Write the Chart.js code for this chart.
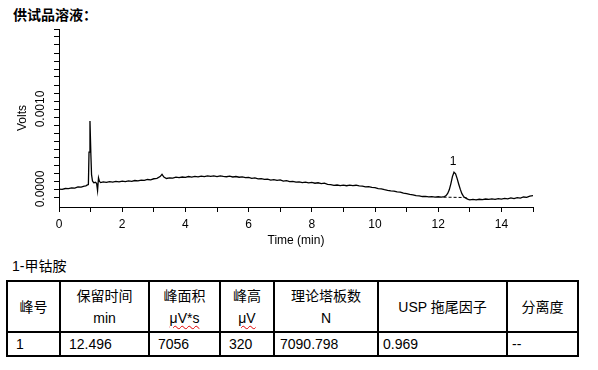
<!DOCTYPE html>
<html>
<head>
<meta charset="utf-8">
<script src="https://cdn.jsdelivr.net/npm/chart.js@4.4.1/dist/chart.umd.min.js"></script>
<style>
  html, body { margin: 0; padding: 0; background: #fff; }
  body { width: 598px; height: 370px; position: relative; overflow: hidden;
         font-family: "Liberation Sans", Arial, "Noto Sans CJK SC", sans-serif; color: #000; }
  #title { position: absolute; left: 13px; top: 7px; font-size: 14px; font-weight: bold; line-height: 16px; color: #000; }
  #chart { position: absolute; left: 0; top: 0; }
  #compound { position: absolute; left: 12px; top: 258px; font-size: 14px; line-height: 16px; color: #000; }
  table { position: absolute; left: 6px; top: 280px; border-collapse: collapse; table-layout: fixed;
          width: 573px; font-size: 14px; color: #000; }
  td { border: 2px solid #000; padding: 0; color: #000; }
  tr.head td { height: 49px; text-align: center; line-height: 22px; vertical-align: middle; }
  tr.row td { height: 22px; text-align: left; vertical-align: middle; line-height: 18px; }
  .sp { text-decoration: underline wavy #e00000; text-decoration-thickness: 1px; text-underline-offset: 2px; }
</style>
</head>
<body>
<div id="title">供试品溶液：</div>
<canvas id="chart" width="598" height="250"></canvas>
<div id="compound"></div>
<table id="tbl"></table>
<script>
// ---------- data ----------
const times = [
  0.00, 0.10, 0.20, 0.30, 0.40, 0.50, 0.60, 0.70, 0.80, 0.85, 0.90, 0.93,
  0.95, 0.98, 1.01, 1.03, 1.06, 1.10, 1.15, 1.19, 1.22, 1.25, 1.28, 1.32,
  1.4, 1.5, 1.6, 1.7, 1.8, 1.9, 2.0, 2.1, 2.2, 2.3, 2.4, 2.5, 2.6, 2.7, 2.8, 2.9,
  3.0, 3.1, 3.2, 3.26, 3.32, 3.4, 3.5, 3.6, 3.7, 3.8, 3.9,
  4.0, 4.1, 4.2, 4.3, 4.4, 4.5, 4.6, 4.7, 4.8, 4.9,
  5.0, 5.1, 5.2, 5.3, 5.4, 5.5, 5.6, 5.7, 5.8, 5.9,
  6.0, 6.1, 6.2, 6.3, 6.4, 6.5, 6.6, 6.7, 6.8, 6.9,
  7.0, 7.1, 7.2, 7.3, 7.4, 7.5, 7.6, 7.7, 7.8, 7.9,
  8.0, 8.1, 8.2, 8.3, 8.4, 8.5, 8.6, 8.7, 8.8, 8.9,
  9.0, 9.1, 9.2, 9.3, 9.4, 9.5, 9.6, 9.7, 9.8, 9.9,
  10.0, 10.1, 10.2, 10.3, 10.4, 10.5, 10.6, 10.7, 10.8, 10.9,
  11.0, 11.1, 11.2, 11.3, 11.4, 11.5, 11.6, 11.7, 11.8, 11.9,
  12.0, 12.1, 12.2, 12.25, 12.3, 12.35, 12.4, 12.45, 12.5, 12.55, 12.6, 12.65,
  12.7, 12.75, 12.8, 12.85, 12.9, 12.95,
  13.0, 13.1, 13.2, 13.3, 13.4, 13.5, 13.6, 13.7, 13.8, 13.9,
  14.0, 14.1, 14.2, 14.3, 14.4, 14.5, 14.6, 14.7, 14.8, 14.9, 15.0
];
const volts = [
  -0.2e-5, -0.5e-5, 0.6e-5, 0.4e-5, 1.5e-5, 1.2e-5, 2.6e-5, 2.4e-5, 3.6e-5, 4.0e-5, 5.2e-5, 5.6e-5,
  4.6e-4, 8.5e-4, 4.2e-4, 1.8e-4, 1.0e-4, 7.8e-5, 8.4e-5, 7.2e-5, -2.0e-5, 1.4e-4, 9.5e-5, 8.0e-5,
  8.8e-5, 8.2e-5, 9.3e-5, 8.6e-5, 9.6e-5, 8.9e-5, 9.9e-5, 9.2e-5, 1.01e-4, 9.6e-5, 1.06e-4, 1.02e-4, 1.12e-4, 1.08e-4, 1.19e-4, 1.15e-4,
  1.28e-4, 1.33e-4, 1.55e-4, 1.84e-4, 1.5e-4, 1.32e-4, 1.4e-4, 1.36e-4, 1.48e-4, 1.42e-4, 1.5e-4,
  1.45e-4, 1.56e-4, 1.49e-4, 1.57e-4, 1.52e-4, 1.62e-4, 1.55e-4, 1.64e-4, 1.57e-4, 1.63e-4,
  1.56e-4, 1.64e-4, 1.58e-4, 1.53e-4, 1.6e-4, 1.5e-4, 1.56e-4, 1.47e-4, 1.52e-4, 1.43e-4,
  1.46e-4, 1.33e-4, 1.38e-4, 1.26e-4, 1.3e-4, 1.2e-4, 1.24e-4, 1.12e-4, 1.17e-4, 1.08e-4,
  1.13e-4, 9.9e-5, 1.04e-4, 9.2e-5, 9.6e-5, 8.5e-5, 9.0e-5, 8.0e-5, 8.6e-5, 7.6e-5,
  8.2e-5, 7.2e-5, 7.8e-5, 6.8e-5, 7.3e-5, 5.9e-5, 5.6e-5, 4.6e-5, 5.0e-5, 4.2e-5,
  4.8e-5, 4.1e-5, 4.9e-5, 4.3e-5, 4.7e-5, 3.8e-5, 3.6e-5, 2.6e-5, 2.9e-5, 1.9e-5,
  1.6e-5, 0.5e-5, 0.2e-5, -0.8e-5, -1.6e-5, -2.3e-5, -2.6e-5, -3.6e-5, -3.9e-5, -5.2e-5,
  -5.8e-5, -6.8e-5, -7.3e-5, -8.3e-5, -8.6e-5, -9.4e-5, -9.1e-5, -9.8e-5, -9.5e-5, -1.02e-4,
  -9.7e-5, -1.01e-4, -9.4e-5, -8.2e-5, -5.5e-5, -1.0e-5, 6.5e-5, 1.55e-4, 2.1e-4, 1.9e-4, 1.3e-4, 6.0e-5,
  -0.5e-5, -5.8e-5, -9.2e-5, -1.1e-4, -1.2e-4, -1.3e-4,
  -1.36e-4, -1.31e-4, -1.36e-4, -1.28e-4, -1.33e-4, -1.25e-4, -1.3e-4, -1.24e-4, -1.29e-4, -1.21e-4,
  -1.26e-4, -1.18e-4, -1.23e-4, -1.12e-4, -1.19e-4, -1.08e-4, -1.13e-4, -1.0e-4, -1.05e-4, -9.0e-5, -8.2e-5
];
// integration baseline drawn under peak 1
const baseTimes = [12.17, 12.93];
const baseVolts = [-1.02e-4, -1.07e-4];
// peak annotation
const peakNames = ['1'];
const peakTimes = [12.5];
const peakApex = [2.1e-4];
// axis tick labels
const xTickLabels = ['0', '2', '4', '6', '8', '10', '12', '14'];
const yTickValues = [0, 0.001];
const yTickLabels = ['0.0000', '0.0010'];

// table content
const compoundTitle = '1-甲钴胺';
const headerTop = ['峰号', '保留时间', '峰面积', '峰高', '理论塔板数', 'USP 拖尾因子', '分离度'];
const headerUnit = ['', 'min', 'μV*s', 'μV', 'N', '', ''];
const rowValues = ['1', '12.496', '7056', '320', '7090.798', '0.969', '--'];

// ---------- table ----------
document.getElementById('compound').textContent = compoundTitle;
const colW = [53, 89, 71, 54, 104, 129, 71];
const padL = [8, 8, 8, 8, 5, 4, 4];
const tbl = document.getElementById('tbl');
let html = '<colgroup>' + colW.map(w => '<col style="width:' + w + 'px">').join('') + '</colgroup>';
html += '<tr class="head">' + headerTop.map((h, i) => {
  const u = headerUnit[i];
  let unit = '';
  if (u) unit = '<br>' + (u.startsWith('μ') ? '<span class="sp">' + u + '</span>' : u);
  return '<td>' + h + unit + '</td>';
}).join('') + '</tr>';
html += '<tr class="row">' + rowValues.map((v, i) => '<td style="padding-left:' + padL[i] + 'px">' + v + '</td>').join('') + '</tr>';
tbl.innerHTML = html;

// ---------- chart ----------
Chart.defaults.color = '#000';
Chart.defaults.font.family = '"Liberation Sans", Arial, sans-serif';
Chart.defaults.font.size = 12;

const trace = times.map((t, i) => ({ x: t, y: volts[i] }));
const base = baseTimes.map((t, i) => ({ x: t, y: baseVolts[i] }));

const annot = {
  id: 'annot',
  afterDraw(chart) {
    const ctx = chart.ctx, xs = chart.scales.x, ys = chart.scales.y;
    ctx.save();
    ctx.fillStyle = '#000';
    ctx.font = '12px "Liberation Sans", Arial, sans-serif';
    // rotated y tick labels
    ctx.textAlign = 'center';
    ctx.textBaseline = 'middle';
    yTickValues.forEach((v, i) => {
      const py = ys.getPixelForValue(v);
      ctx.save();
      ctx.translate(41, py);
      ctx.rotate(-Math.PI / 2);
      ctx.fillText(yTickLabels[i], 0, 0);
      ctx.restore();
    });
    // peak labels
    ctx.textBaseline = 'alphabetic';
    peakNames.forEach((n, i) => {
      const px = xs.getPixelForValue(peakTimes[i]);
      const py = ys.getPixelForValue(peakApex[i]);
      ctx.fillText(n, px - 1, py - 7);
    });
    ctx.restore();
  }
};

new Chart(document.getElementById('chart'), {
  type: 'line',
  data: {
    datasets: [
      { data: trace, borderColor: '#000', borderWidth: 1.3, pointRadius: 0, tension: 0, fill: false },
      { data: base, borderColor: '#000', borderWidth: 1, borderDash: [3, 2], pointRadius: 0, fill: false }
    ]
  },
  options: {
    responsive: false,
    animation: false,
    events: [],
    layout: { padding: { left: 0, right: 65, top: 29, bottom: 0 } },
    plugins: { legend: { display: false }, tooltip: { enabled: false } },
    scales: {
      x: {
        type: 'linear', min: 0, max: 15,
        ticks: {
          stepSize: 1, autoSkip: false, maxRotation: 0, minRotation: 0, padding: 5,
          callback: (v) => { const s = String(v); return xTickLabels.includes(s) ? s : ''; }
        },
        grid: { display: true, drawOnChartArea: false, drawTicks: true, tickLength: 5, color: '#000', lineWidth: 1 },
        border: { display: true, color: '#000', width: 1 },
        title: { display: true, text: 'Time (min)', font: { size: 12 }, padding: { top: 0, bottom: 2 } },
        afterFit: (s) => { s.height = 43; }
      },
      y: {
        type: 'linear', min: -0.000225, max: 0.002,
        ticks: { stepSize: 0.0001, display: false },
        afterBuildTicks: (s) => {
          s.ticks = s.ticks.filter(t => Math.abs(t.value * 10000 - Math.round(t.value * 10000)) < 1e-6);
        },
        grid: { display: true, drawOnChartArea: false, drawTicks: true, tickLength: 5, color: '#000', lineWidth: 1 },
        border: { display: true, color: '#000', width: 1 },
        title: { display: true, text: 'Volts', font: { size: 12 }, padding: { top: 15, bottom: 0 } },
        afterFit: (s) => { s.width = 59; }
      }
    }
  },
  plugins: [annot]
});
</script>
</body>
</html>
